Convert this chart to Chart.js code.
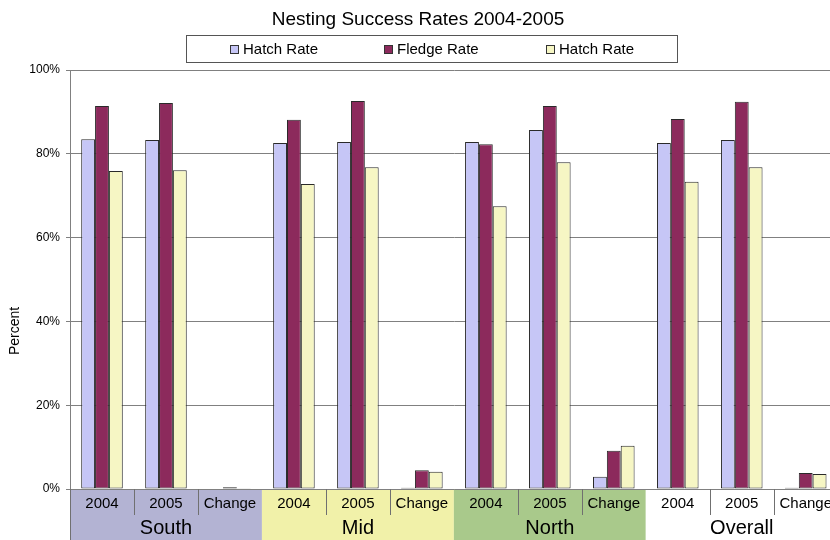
<!DOCTYPE html>
<html>
<head>
<meta charset="utf-8">
<script src="https://cdn.jsdelivr.net/npm/chart.js@4/dist/chart.umd.min.js"></script>
<style>
  html, body { margin: 0; padding: 0; background: #fff; overflow: hidden; }
  #wrap { width: 830px; height: 540px; overflow: hidden; }
</style>
</head>
<body>
<div id="wrap"><canvas id="chart" width="838" height="540"></canvas></div>
<script>
const categories = ["2004", "2005", "Change", "2004", "2005", "Change",
                    "2004", "2005", "Change", "2004", "2005", "Change"];
const regions = ["South", "Mid", "North", "Overall"];
const seriesNames = ["Hatch Rate", "Fledge Rate", "Hatch Rate"];
const hatchRate = [83.5, 83.3, 0.1, 82.6, 82.8, 0.3, 82.8, 85.7, 2.9, 82.6, 83.3, 0.3];
const fledgeRate = [91.4, 92.1, 0.4, 88.1, 92.6, 4.5, 82.3, 91.4, 9.1, 88.3, 92.4, 3.8];
const hatchRate2 = [75.9, 76.1, 0.2, 72.8, 76.8, 4.1, 67.5, 78.0, 10.3, 73.3, 76.8, 3.6];
const yTicks = [0, 20, 40, 60, 80, 100];

const seriesColors = ["#c6c6f6", "#8c2a5c", "#f6f6c4"];
const bandColors = ["#b3b3d3", "#f1f1a9", "#a9c98b", "#ffffff"];
const FONT = "'Liberation Sans', Arial, sans-serif";

const decor = {
  id: "decor",
  beforeDraw(chart) {
    const { ctx, chartArea, scales } = chart;
    const x = scales.x;
    const w = (chartArea.right - chartArea.left) / categories.length;
    ctx.save();
    regions.forEach((r, i) => {
      const l = x.getPixelForValue(i * 3) - w / 2;
      ctx.fillStyle = bandColors[i];
      ctx.fillRect(l, chartArea.bottom, w * 3, chart.height - chartArea.bottom);
    });
    ctx.restore();
  },
  afterDraw(chart) {
    const { ctx, chartArea, scales } = chart;
    const x = scales.x;
    const w = (chartArea.right - chartArea.left) / categories.length;
    ctx.save();
    // separators under categories
    ctx.strokeStyle = "#707070";
    ctx.lineWidth = 1;
    categories.forEach((c, i) => {
      if (i % 3 === 0) return;
      const px = Math.round(x.getPixelForValue(i) - w / 2) + 0.5;
      ctx.beginPath();
      ctx.moveTo(px, chartArea.bottom);
      ctx.lineTo(px, chartArea.bottom + 26);
      ctx.stroke();
    });
    ctx.beginPath();
    ctx.moveTo(chartArea.left + 0.5, chartArea.bottom);
    ctx.lineTo(chartArea.left + 0.5, chart.height);
    ctx.stroke();
    // region labels
    ctx.fillStyle = "#000";
    ctx.font = "20px " + FONT;
    ctx.textAlign = "center";
    ctx.textBaseline = "middle";
    regions.forEach((r, i) => {
      const cx = x.getPixelForValue(i * 3 + 1);
      ctx.fillText(r, cx, 528);
    });
    // title
    ctx.font = "19px " + FONT;
    ctx.fillText("Nesting Success Rates 2004-2005", 418, 20);
    // y title
    ctx.save();
    ctx.translate(15, 331);
    ctx.rotate(-Math.PI / 2);
    ctx.font = "14px " + FONT;
    ctx.fillText("Percent", 0, 0);
    ctx.restore();
    // legend box
    ctx.strokeStyle = "#555";
    ctx.strokeRect(186.5, 35.5, 491, 27);
    const markerX = [230, 384, 546];
    ctx.font = "15px " + FONT;
    ctx.textAlign = "left";
    chart.data.datasets.forEach((ds, i) => {
      ctx.fillStyle = ds.backgroundColor;
      ctx.fillRect(markerX[i], 45, 9, 9);
      ctx.strokeStyle = "#333";
      ctx.strokeRect(markerX[i] + 0.5, 45.5, 8, 8);
      ctx.fillStyle = "#000";
      ctx.fillText(ds.label, markerX[i] + 13, 50);
    });
    ctx.restore();
  }
};

new Chart(document.getElementById("chart"), {
  type: "bar",
  data: {
    labels: categories,
    datasets: [hatchRate, fledgeRate, hatchRate2].map((d, i) => ({
      label: seriesNames[i],
      data: d,
      backgroundColor: seriesColors[i],
      borderColor: "#2a2a2a",
      borderWidth: 1,
      borderSkipped: false,
      barPercentage: 1,
      categoryPercentage: 0.65
    }))
  },
  options: {
    responsive: false,
    animation: false,
    layout: { padding: { top: 70, left: 0, right: 0, bottom: 0 } },
    plugins: { legend: { display: false }, title: { display: false }, tooltip: { enabled: false } },
    scales: {
      x: {
        grid: { display: false, drawTicks: false },
        border: { display: false },
        ticks: { color: "#000", font: { family: FONT, size: 15 }, padding: 6, maxRotation: 0, autoSkip: false },
        afterFit(s) { s.height = 51; }
      },
      y: {
        min: 0,
        max: 100,
        afterBuildTicks(s) { s.ticks = yTicks.map(v => ({ value: v })); },
        ticks: { color: "#000", font: { family: FONT, size: 12 }, padding: 6, callback: v => v + "%" },
        grid: { color: "#808080", tickLength: 4 },
        border: { color: "#808080" },
        afterFit(s) { s.width = 70; }
      }
    }
  },
  plugins: [decor]
});
</script>
</body>
</html>
